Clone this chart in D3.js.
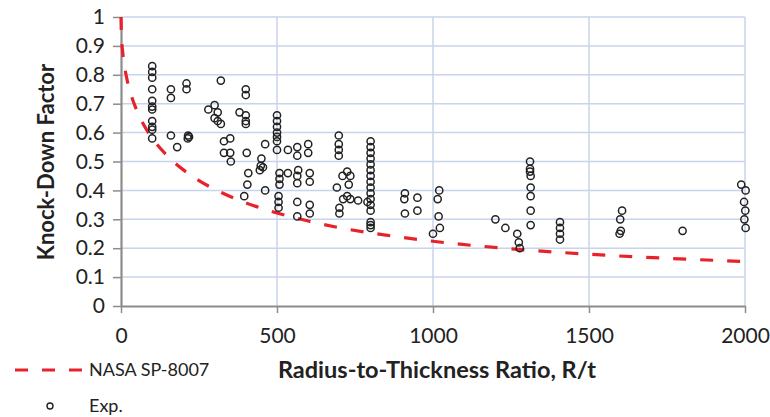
<!DOCTYPE html>
<html>

<head>
  <title>Knock-Down Factor vs R/t</title>
  <style>
    body {
      margin: 0;
      background: #fff;
      font-family: Lato, sans-serif;
    }
  </style>
  <script src="https://cdn.jsdelivr.net/npm/d3@7"></script>
</head>

<body>
  <svg id="chart" width="770" height="417"></svg>
  <script>
    // NASA SP-8007 design curve
    const curveRt = [0, 1, 5, 10, 20, 30, 50, 75, 100, 150, 200, 250, 300, 400, 500, 600, 700, 850, 1000, 1250, 1500, 1750, 2000];
    const curveKdf = [1.0, 0.945, 0.883, 0.839, 0.780, 0.739, 0.678, 0.623, 0.581, 0.518, 0.471, 0.434, 0.404, 0.357, 0.322, 0.294, 0.271, 0.245, 0.224, 0.198, 0.179, 0.165, 0.154];

    // experimental points (R/t, knock-down factor)
    const expRt = [
      100, 100, 100, 100, 100, 100, 100, 100, 100, 100, 100,
      160, 160, 160, 180, 210, 210, 215, 218, 214,
      280, 300, 300, 310, 310, 320, 320, 330, 330, 350, 350, 352, 380,
      400, 400, 400, 400, 400, 403, 408, 405, 395,
      450, 455, 445, 448, 462, 462,
      500, 500, 500, 500, 500, 500, 500, 508, 508, 508, 505, 505, 505,
      535, 535, 565, 565, 568, 565, 565, 565, 565,
      600, 600, 605, 605, 605, 605,
      698, 698, 698, 698, 692, 700, 700, 710, 712, 725, 725, 735, 735, 730, 760, 790,
      800, 800, 800, 800, 800, 800, 800, 800, 800, 800, 800, 800, 800, 800, 800, 800,
      910, 908, 910, 950, 950, 1020, 1015, 1018, 1022, 1000,
      1200, 1232, 1270, 1275, 1278,
      1311, 1311, 1311, 1313, 1313, 1313, 1313, 1313,
      1407, 1407, 1407, 1407, 1606, 1600, 1602, 1598, 1800,
      1988, 2002, 1997, 2001, 1998, 2002
    ];
    const expKdf = [
      0.83, 0.81, 0.79, 0.75, 0.71, 0.69, 0.68, 0.64, 0.62, 0.61, 0.58,
      0.75, 0.72, 0.59, 0.55, 0.77, 0.75, 0.59, 0.585, 0.58,
      0.68, 0.695, 0.65, 0.67, 0.64, 0.78, 0.63, 0.57, 0.53, 0.58, 0.53, 0.50, 0.67,
      0.75, 0.73, 0.66, 0.64, 0.63, 0.53, 0.46, 0.42, 0.38,
      0.51, 0.48, 0.47, 0.485, 0.56, 0.40,
      0.66, 0.64, 0.62, 0.60, 0.585, 0.57, 0.54, 0.46, 0.44, 0.42, 0.38, 0.36, 0.34,
      0.54, 0.46, 0.55, 0.52, 0.47, 0.45, 0.425, 0.36, 0.31,
      0.56, 0.53, 0.46, 0.43, 0.35, 0.32,
      0.59, 0.56, 0.54, 0.52, 0.41, 0.34, 0.32, 0.45, 0.37, 0.465, 0.38, 0.45, 0.37, 0.42, 0.365, 0.36,
      0.57, 0.55, 0.53, 0.51, 0.49, 0.47, 0.45, 0.43, 0.41, 0.39, 0.37, 0.35, 0.33, 0.29, 0.28, 0.27,
      0.39, 0.37, 0.32, 0.375, 0.33, 0.40, 0.37, 0.31, 0.27, 0.25,
      0.30, 0.27, 0.25, 0.22, 0.20,
      0.50, 0.475, 0.465, 0.45, 0.41, 0.38, 0.33, 0.28,
      0.29, 0.27, 0.25, 0.23, 0.33, 0.30, 0.26, 0.25, 0.26,
      0.42, 0.40, 0.36, 0.33, 0.30, 0.27
    ];

    const xTicks = [0, 500, 1000, 1500, 2000];
    const yTicks = [0, 0.1, 0.2, 0.3, 0.4, 0.5, 0.6, 0.7, 0.8, 0.9, 1];
    const yTickLabels = ["0", "0.1", "0.2", "0.3", "0.4", "0.5", "0.6", "0.7", "0.8", "0.9", "1"];

    const svg = d3.select("#chart");
    const plotLeft = 121, plotRight = 745, plotTop = 17, plotBottom = 306;

    const x = d3.scaleLinear().domain([0, 2000]).range([plotLeft, plotRight]);
    const y = d3.scaleLinear().domain([0, 1]).range([plotBottom, plotTop]);

    const gridColor = "#c8d4ea";
    const axisColor = "#8c8c8c";

    // gridlines
    svg.append("g")
      .selectAll("line")
      .data(yTicks.filter(d => d > 0))
      .enter()
      .append("line")
      .attr("x1", plotLeft).attr("x2", plotRight)
      .attr("y1", d => y(d)).attr("y2", d => y(d))
      .attr("stroke", gridColor)
      .attr("stroke-width", 1.5);

    svg.append("g")
      .selectAll("line")
      .data(xTicks.filter(d => d > 0))
      .enter()
      .append("line")
      .attr("x1", d => x(d)).attr("x2", d => x(d))
      .attr("y1", plotTop).attr("y2", plotBottom)
      .attr("stroke", gridColor)
      .attr("stroke-width", 1.5);

    // axes
    const yAxis = svg.append("g")
      .attr("transform", "translate(" + plotLeft + ",0)")
      .call(d3.axisLeft(y).tickValues(yTicks).tickSize(8).tickSizeOuter(0).tickPadding(8)
        .tickFormat((d, i) => yTickLabels[i]));

    const xAxis = svg.append("g")
      .attr("transform", "translate(0," + plotBottom + ")")
      .call(d3.axisBottom(x).tickValues(xTicks).tickSize(7).tickSizeOuter(0).tickPadding(15)
        .tickFormat(d3.format("d")));

    [yAxis, xAxis].forEach(function (a) {
      a.select(".domain").attr("stroke", axisColor).attr("stroke-width", 2.2);
      a.selectAll(".tick line").attr("stroke", axisColor).attr("stroke-width", 1.5);
      a.selectAll("text")
        .attr("fill", "#222")
        .style("font-family", "Lato, sans-serif")
        .style("font-size", "21px");
    });

    // design curve
    const line = d3.line()
      .x((d, i) => x(curveRt[i]))
      .y((d, i) => y(curveKdf[i]))
      .curve(d3.curveMonotoneX);

    svg.append("path")
      .attr("d", line(curveRt))
      .attr("fill", "none")
      .attr("stroke", "#e8222b")
      .attr("stroke-width", 3.2)
      .attr("stroke-dasharray", "13,14");

    // experiment points
    svg.append("g")
      .selectAll("circle")
      .data(expRt)
      .enter()
      .append("circle")
      .attr("cx", (d, i) => x(d))
      .attr("cy", (d, i) => y(expKdf[i]))
      .attr("r", 3.6)
      .attr("fill", "none")
      .attr("stroke", "#222")
      .attr("stroke-width", 1.5);

    // axis titles
    svg.append("text")
      .attr("x", 437)
      .attr("y", 378)
      .attr("text-anchor", "middle")
      .style("font-size", "23.5px")
      .style("font-weight", "bold")
      .attr("fill", "#222")
      .text("Radius-to-Thickness Ratio, R/t");

    svg.append("text")
      .attr("transform", "translate(54,162) rotate(-90)")
      .attr("text-anchor", "middle")
      .style("font-size", "22px")
      .style("font-weight", "bold")
      .attr("fill", "#222")
      .text("Knock-Down Factor");

    // legend
    svg.append("line")
      .attr("x1", 15).attr("x2", 82)
      .attr("y1", 370).attr("y2", 370)
      .attr("stroke", "#e8222b")
      .attr("stroke-width", 3.2)
      .attr("stroke-dasharray", "13,14");

    svg.append("text")
      .attr("x", 89).attr("y", 376)
      .style("font-size", "18px")
      .attr("fill", "#222")
      .text("NASA SP-8007");

    svg.append("circle")
      .attr("cx", 50).attr("cy", 406)
      .attr("r", 3)
      .attr("fill", "none")
      .attr("stroke", "#222")
      .attr("stroke-width", 1.4);

    svg.append("text")
      .attr("x", 89).attr("y", 412)
      .style("font-size", "18px")
      .attr("fill", "#222")
      .text("Exp.");
  </script>
</body>

</html>
